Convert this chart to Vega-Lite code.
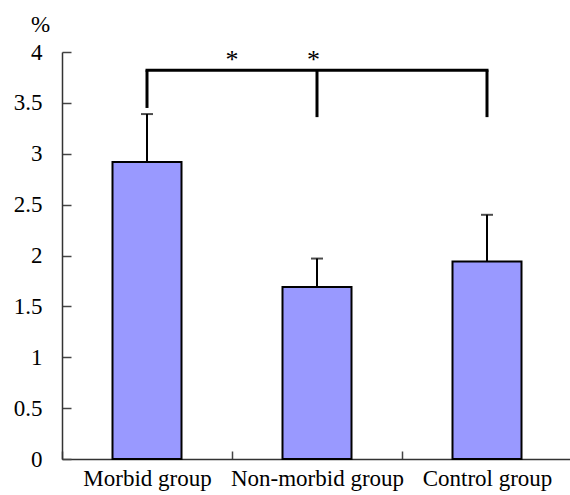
{
  "$schema": "https://vega.github.io/schema/vega-lite/v6.json",
  "width": 510,
  "height": 407,
  "autosize": "none",
  "padding": {"left": 62, "top": 52, "right": 0, "bottom": 36},
  "background": "white",
  "config": {
    "view": {"stroke": null},
    "font": "Liberation Serif"
  },
  "datasets": {
    "bars": [
      {"group": "Morbid group", "value": 2.92, "err": 3.39},
      {"group": "Non-morbid group", "value": 1.69, "err": 1.97},
      {"group": "Control group", "value": 1.94, "err": 2.4}
    ],
    "vlines": [
      {"group": "Morbid group", "y1": 3.45, "y2": 3.82},
      {"group": "Non-morbid group", "y1": 3.36, "y2": 3.82},
      {"group": "Control group", "y1": 3.36, "y2": 3.82}
    ],
    "hline": [
      {"from": "Morbid group", "to": "Control group", "y": 3.82}
    ],
    "stars": [
      {"group": "Non-morbid group", "y": 3.92, "label": "*"}
    ]
  },
  "encoding": {
    "x": {
      "field": "group",
      "type": "nominal",
      "scale": {"domain": ["Morbid group", "Non-morbid group", "Control group"], "paddingInner": 0, "paddingOuter": 0},
      "axis": {
        "title": null,
        "labelAngle": 0,
        "labelFont": "Liberation Serif",
        "labelFontSize": 23,
        "labelColor": "black",
        "tickBand": "extent",
        "tickSize": -8,
        "tickColor": "#444",
        "tickWidth": 1.5,
        "domainColor": "#333",
        "domainWidth": 1.5,
        "labelPadding": 16
      }
    }
  },
  "layer": [
    {
      "data": {"name": "bars"},
      "mark": {"type": "bar", "fill": "#9999FF", "stroke": "black", "strokeWidth": 2, "size": 69},
      "encoding": {
        "y": {
          "field": "value",
          "type": "quantitative",
          "scale": {"domain": [0, 4], "nice": false},
          "axis": {
            "values": [0, 0.5, 1, 1.5, 2, 2.5, 3, 3.5, 4],
            "format": "~g",
            "grid": false,
            "title": "%",
            "titleAngle": 0,
            "titleFont": "Liberation Serif",
            "titleFontSize": 23,
            "titleFontWeight": "normal",
            "titleColor": "black",
            "titleX": -22,
            "titleY": -16,
            "titleAlign": "center",
            "labelFont": "Liberation Serif",
            "labelFontSize": 23,
            "labelColor": "black",
            "tickSize": -9,
            "tickColor": "#444",
            "tickWidth": 1.5,
            "domainColor": "#333",
            "domainWidth": 1.5,
            "labelPadding": 29
          }
        }
      }
    },
    {
      "data": {"name": "bars"},
      "mark": {"type": "rule", "color": "black", "strokeWidth": 2},
      "encoding": {
        "y": {"field": "value", "type": "quantitative"},
        "y2": {"field": "err"}
      }
    },
    {
      "data": {"name": "bars"},
      "mark": {"type": "tick", "color": "black", "thickness": 2, "size": 12},
      "encoding": {
        "y": {"field": "err", "type": "quantitative"}
      }
    },
    {
      "data": {"name": "vlines"},
      "mark": {"type": "rule", "color": "black", "strokeWidth": 3},
      "encoding": {
        "y": {"field": "y1", "type": "quantitative"},
        "y2": {"field": "y2"}
      }
    },
    {
      "data": {"name": "hline"},
      "mark": {"type": "rule", "color": "black", "strokeWidth": 3, "strokeCap": "square"},
      "encoding": {
        "x": {"field": "from", "type": "nominal", "scale": {"domain": ["Morbid group", "Non-morbid group", "Control group"], "paddingInner": 0, "paddingOuter": 0}},
        "x2": {"field": "to"},
        "y": {"field": "y", "type": "quantitative"}
      }
    },
    {
      "data": {"name": "stars"},
      "mark": {"type": "text", "fontSize": 26, "font": "Liberation Serif", "baseline": "middle", "color": "black"},
      "encoding": {
        "x": {"field": "group", "type": "nominal", "bandPosition": 0, "scale": {"domain": ["Morbid group", "Non-morbid group", "Control group"], "paddingInner": 0, "paddingOuter": 0}},
        "y": {"field": "y", "type": "quantitative"},
        "text": {"field": "label"}
      }
    },
    {
      "data": {"name": "stars"},
      "mark": {"type": "text", "fontSize": 26, "font": "Liberation Serif", "baseline": "middle", "color": "black"},
      "encoding": {
        "x": {"field": "group", "type": "nominal", "bandPosition": 0.48, "scale": {"domain": ["Morbid group", "Non-morbid group", "Control group"], "paddingInner": 0, "paddingOuter": 0}},
        "y": {"field": "y", "type": "quantitative"},
        "text": {"field": "label"}
      }
    }
  ]
}
